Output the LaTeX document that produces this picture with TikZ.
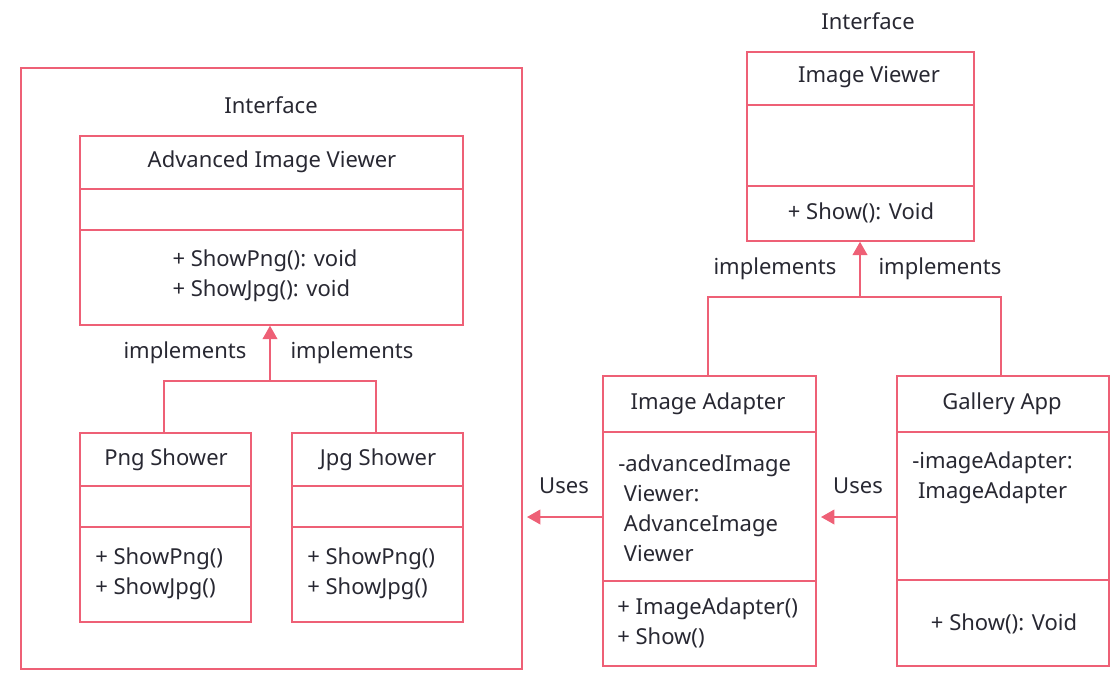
\documentclass[tikz,border=0pt]{standalone}
\usepackage{fontspec}
\setmainfont{Noto Sans}
\usetikzlibrary{arrows.meta}
\definecolor{umlred}{RGB}{238,96,118}
\definecolor{txt}{RGB}{40,40,50}
\begin{document}
\begin{tikzpicture}[x=0.75pt,y=-0.75pt,
  box/.style={draw=umlred,line width=1.3pt,anchor=north west,inner sep=0pt},
  lbl/.style={text=txt,font=\fontsize{16.5}{22.5}\selectfont,inner sep=0pt},
  lline/.style={draw=umlred,line width=1.3pt},
  conn/.style={draw=umlred,line width=1.3pt,-{Triangle[width=11pt,length=10pt]}}]
\useasboundingbox (0,0) rectangle (1119,678);
% outer frame
\node[box,minimum width=501*0.75pt,minimum height=601*0.75pt] (frame) at (20,67) {};
\node[lbl] (int1) at (271,105) {Interface};
% Advanced Image Viewer
\node[box,minimum width=383*0.75pt,minimum height=189*0.75pt] (avi) at (79,135) {};
\draw[lline] (79,189) -- (462,189) (79,230) -- (462,230);
\node[lbl] (avit) at (272,162) {Advanced Image Viewer};
\node[lbl,align=left] (avim) at (265,276) {+ ShowPng(): void\\+ ShowJpg(): void};
% Png Shower
\node[box,minimum width=171*0.75pt,minimum height=189*0.75pt] (png) at (79,432) {};
\draw[lline] (79,486) -- (250,486) (79,527) -- (250,527);
\node[lbl] (pngt) at (166,460) {Png Shower};
\node[lbl,align=left,anchor=west] (pngm) at (95,574) {+ ShowPng()\\+ ShowJpg()};
% Jpg Shower
\node[box,minimum width=171*0.75pt,minimum height=189*0.75pt] (jpg) at (291,432) {};
\draw[lline] (291,486) -- (462,486) (291,527) -- (462,527);
\node[lbl] (jpgt) at (378,460) {Jpg Shower};
\node[lbl,align=left,anchor=west] (jpgm) at (307,574) {+ ShowPng()\\+ ShowJpg()};
% implements left
\coordinate (jl) at (270,381);
\draw[lline] (png.north -| 164,0) -- (164,381) -- (376,381) -- (jpg.north -| 376,0);
\draw[conn] (jl) -- (avi.south -| jl);
\node[lbl] (imp1) at (185,353) {implements};
\node[lbl] (imp2) at (352,353) {implements};
% Image Viewer
\node[lbl] (int2) at (868,21) {Interface};
\node[box,minimum width=227*0.75pt,minimum height=189*0.75pt] (iv) at (746,51) {};
\draw[lline] (746,105) -- (973,105) (746,186) -- (973,186);
\node[lbl] (ivt) at (869,77) {Image Viewer};
\node[lbl] (ivm) at (861,213) {+ Show(): Void};
% Image Adapter
\node[box,minimum width=213*0.75pt,minimum height=290*0.75pt] (ia) at (602,375) {};
\draw[lline] (602,432) -- (815,432) (602,581) -- (815,581);
\node[lbl] (iat) at (708,404) {Image Adapter};
\node[lbl,align=left,anchor=west] (iaa) at (618,508) {-advancedImage\\\ Viewer:\\\ AdvanceImage\\\ Viewer};
\node[lbl,align=left,anchor=west] (iam) at (617,623) {+ ImageAdapter()\\+ Show()};
% Gallery App
\node[box,minimum width=212*0.75pt,minimum height=290*0.75pt] (ga) at (896,375) {};
\draw[lline] (896,432) -- (1108,432) (896,580) -- (1108,580);
\node[lbl] (gat) at (1002,404) {Gallery App};
\node[lbl,align=left,anchor=west] (gaa) at (912,478) {-imageAdapter:\\\ ImageAdapter};
\node[lbl] (gam) at (1004,624) {+ Show(): Void};
% implements right
\coordinate (jr) at (860,297);
\draw[lline] (ia.north -| 708,0) -- (708,297) -- (1001,297) -- (ga.north -| 1001,0);
\draw[conn] (jr) -- (iv.south -| jr);
\node[lbl] (imp3) at (775,269) {implements};
\node[lbl] (imp4) at (940,269) {implements};
% uses
\coordinate (u1) at (527,517);
\coordinate (u2) at (821,517);
\draw[conn] (ia.west |- u1) -- (u1);
\draw[conn] (ga.west |- u2) -- (u2);
\node[lbl] (uses1) at (564,486) {Uses};
\node[lbl] (uses2) at (858,486) {Uses};
\end{tikzpicture}
\end{document}
